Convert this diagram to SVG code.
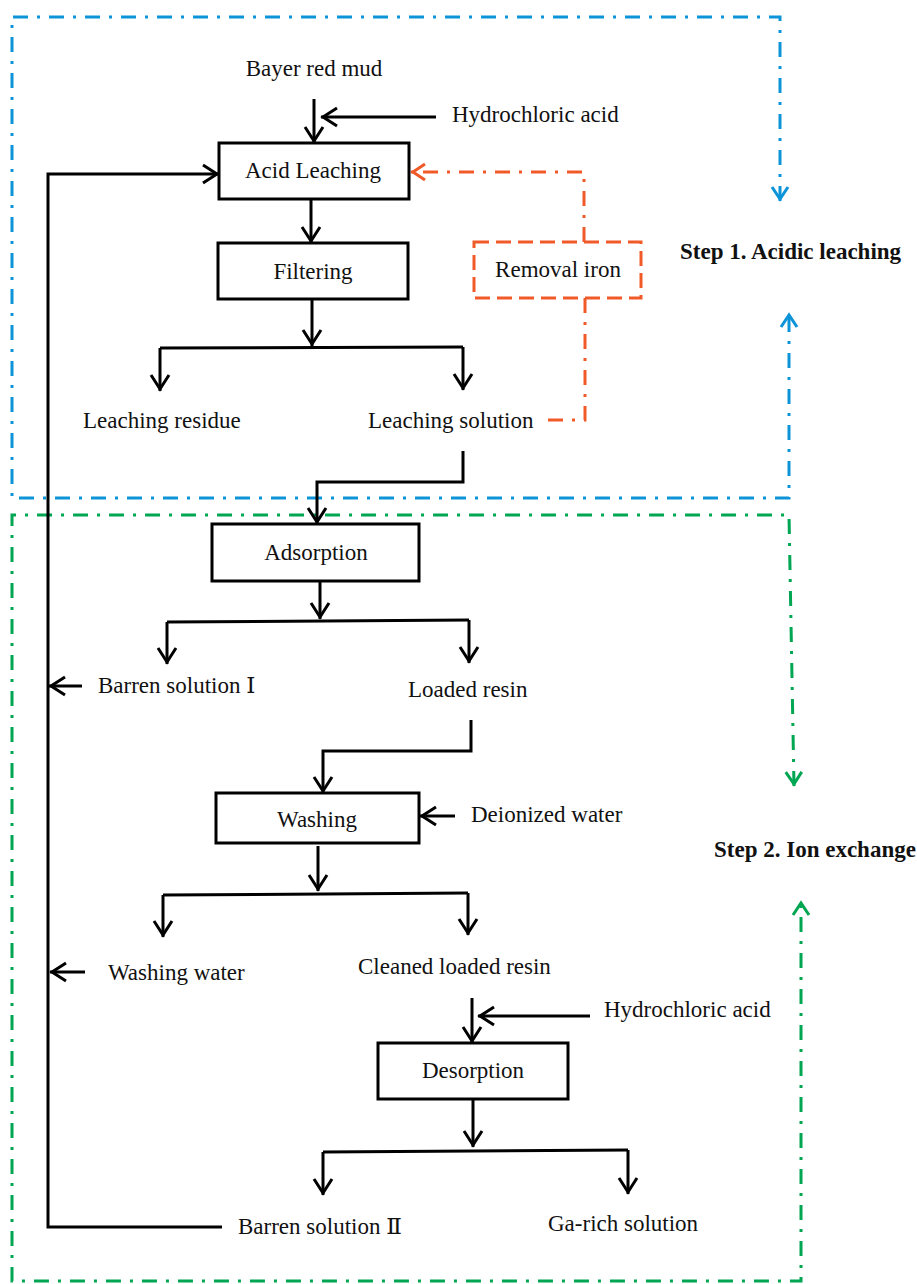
<svg xmlns="http://www.w3.org/2000/svg" width="917" height="1284" viewBox="0 0 917 1284">
<defs>
<style>
.t{font-family:"Liberation Serif","DejaVu Serif","Noto Sans CJK SC",serif;font-size:23px;fill:#111}
.m{text-anchor:middle}
.b{font-weight:bold}
.box{fill:#fff;stroke:#000;stroke-width:3}
.ln{fill:none;stroke:#000;stroke-width:3}
.ar{marker-end:url(#ab)}
.blue{fill:none;stroke:#0C93D8;stroke-width:3;stroke-dasharray:15 9 3 9}
.green{fill:none;stroke:#00A651;stroke-width:3;stroke-dasharray:15 9 3 9}
.orange{fill:none;stroke:#F05A28;stroke-width:3;stroke-dasharray:15 9 3 9}
.obox{fill:none;stroke:#F05A28;stroke-width:3;stroke-dasharray:15 7}
</style>
<marker id="ab" viewBox="0 0 20 20" refX="18" refY="10" markerWidth="20" markerHeight="20" markerUnits="userSpaceOnUse" orient="auto" overflow="visible">
<path d="M2,1 L16,10 L2,19" fill="none" stroke="#000" stroke-width="3"/>
</marker>
<marker id="abl" viewBox="0 0 16 20" refX="15" refY="10" markerWidth="16" markerHeight="20" markerUnits="userSpaceOnUse" orient="auto-start-reverse" overflow="visible">
<path d="M1,2 L13,10 L1,18" fill="none" stroke="#0C93D8" stroke-width="3"/>
</marker>
<marker id="agr" viewBox="0 0 16 20" refX="15" refY="10" markerWidth="16" markerHeight="20" markerUnits="userSpaceOnUse" orient="auto-start-reverse" overflow="visible">
<path d="M1,2 L13,10 L1,18" fill="none" stroke="#00A651" stroke-width="3"/>
</marker>
<marker id="aor" viewBox="0 0 16 20" refX="15" refY="10" markerWidth="16" markerHeight="20" markerUnits="userSpaceOnUse" orient="auto" overflow="visible">
<path d="M1,2 L13,10 L1,18" fill="none" stroke="#F05A28" stroke-width="3"/>
</marker>
</defs>
<rect width="917" height="1284" fill="#fff"/>

<g id="frames">
<path class="blue" d="M780,201 L780,17 L12,17 L12,498 L789,498 L789,313" marker-start="url(#abl)" marker-end="url(#abl)"/>
<path class="green" d="M794,786 L789,515 L12,515 L12,1281 L801,1281 L801,901" marker-start="url(#agr)" marker-end="url(#agr)"/>
</g>

<g id="connectors">
<path class="ln ar" d="M314,99 L314,143"/>
<path class="ln ar" d="M436,117 L321,117"/>
<path class="ln ar" d="M311,199 L311,243"/>
<path class="ln ar" d="M312,300 L312,346"/>
<path class="ln" d="M160,348 L463,347"/>
<path class="ln ar" d="M160,348 L160,391"/>
<path class="ln ar" d="M463,347 L463,390"/>
<path class="ln ar" d="M463,451 L463,482 L317,482 L317,524"/>
<path class="ln ar" d="M222,1227 L48,1227 L48,174 L219,174"/>
<path class="ln ar" d="M82,686 L49,686"/>
<path class="ln ar" d="M85,972 L50,972"/>
<path class="ln ar" d="M320,581 L320,619"/>
<path class="ln" d="M167,622 L469,620"/>
<path class="ln ar" d="M167,622 L167,664"/>
<path class="ln ar" d="M469,620 L469,663"/>
<path class="ln ar" d="M471,720 L471,751 L323,751 L323,793"/>
<path class="ln ar" d="M455,816 L420,816"/>
<path class="ln ar" d="M318,846 L318,891"/>
<path class="ln" d="M163,895 L468,893"/>
<path class="ln ar" d="M163,895 L163,937"/>
<path class="ln ar" d="M468,893 L468,935"/>
<path class="ln ar" d="M472,998 L472,1043"/>
<path class="ln ar" d="M590,1016 L478,1016"/>
<path class="ln ar" d="M473,1100 L473,1147"/>
<path class="ln" d="M323,1152 L628,1150"/>
<path class="ln ar" d="M323,1152 L323,1195"/>
<path class="ln ar" d="M628,1150 L628,1194"/>
<path class="orange" d="M584,242 L584,172 L411,172" marker-end="url(#aor)"/>
<path class="orange" d="M585,298 L585,420 L543,420"/>
</g>

<g id="n-bayer"><text class="t m" x="314" y="76">Bayer red mud</text></g>
<g id="n-hcl1"><text class="t" x="452" y="122">Hydrochloric acid</text></g>
<g id="n-acid"><rect class="box" x="219" y="143" width="190" height="56"/><text class="t m" x="313" y="178">Acid Leaching</text></g>
<g id="n-filter"><rect class="box" x="218" y="243" width="190" height="56"/><text class="t m" x="313" y="279">Filtering</text></g>
<g id="n-iron"><rect class="obox" x="474" y="242" width="167" height="56"/><text class="t m" x="558" y="277">Removal iron</text></g>
<g id="n-residue"><text class="t" x="83" y="428">Leaching residue</text></g>
<g id="n-solution"><text class="t" x="368" y="428">Leaching solution</text></g>
<g id="n-step1"><text class="t b" x="680" y="259">Step 1. Acidic leaching</text></g>
<g id="n-adsorption"><rect class="box" x="212" y="524" width="207" height="57"/><text class="t m" x="316" y="560">Adsorption</text></g>
<g id="n-barren1"><text class="t" x="98" y="693">Barren solution Ⅰ</text></g>
<g id="n-loaded"><text class="t" x="408" y="697">Loaded resin</text></g>
<g id="n-washing"><rect class="box" x="216" y="793" width="203" height="50"/><text class="t m" x="317" y="827">Washing</text></g>
<g id="n-deion"><text class="t" x="471" y="822">Deionized water</text></g>
<g id="n-step2"><text class="t b" x="714" y="857">Step 2. Ion exchange</text></g>
<g id="n-washwater"><text class="t" x="108" y="980">Washing water</text></g>
<g id="n-cleaned"><text class="t" x="358" y="974">Cleaned loaded resin</text></g>
<g id="n-hcl2"><text class="t" x="604" y="1017">Hydrochloric acid</text></g>
<g id="n-desorption"><rect class="box" x="378" y="1043" width="190" height="56"/><text class="t m" x="473" y="1078">Desorption</text></g>
<g id="n-barren2"><text class="t" x="238" y="1234">Barren solution Ⅱ</text></g>
<g id="n-garich"><text class="t" x="548" y="1231">Ga-rich solution</text></g>
</svg>
